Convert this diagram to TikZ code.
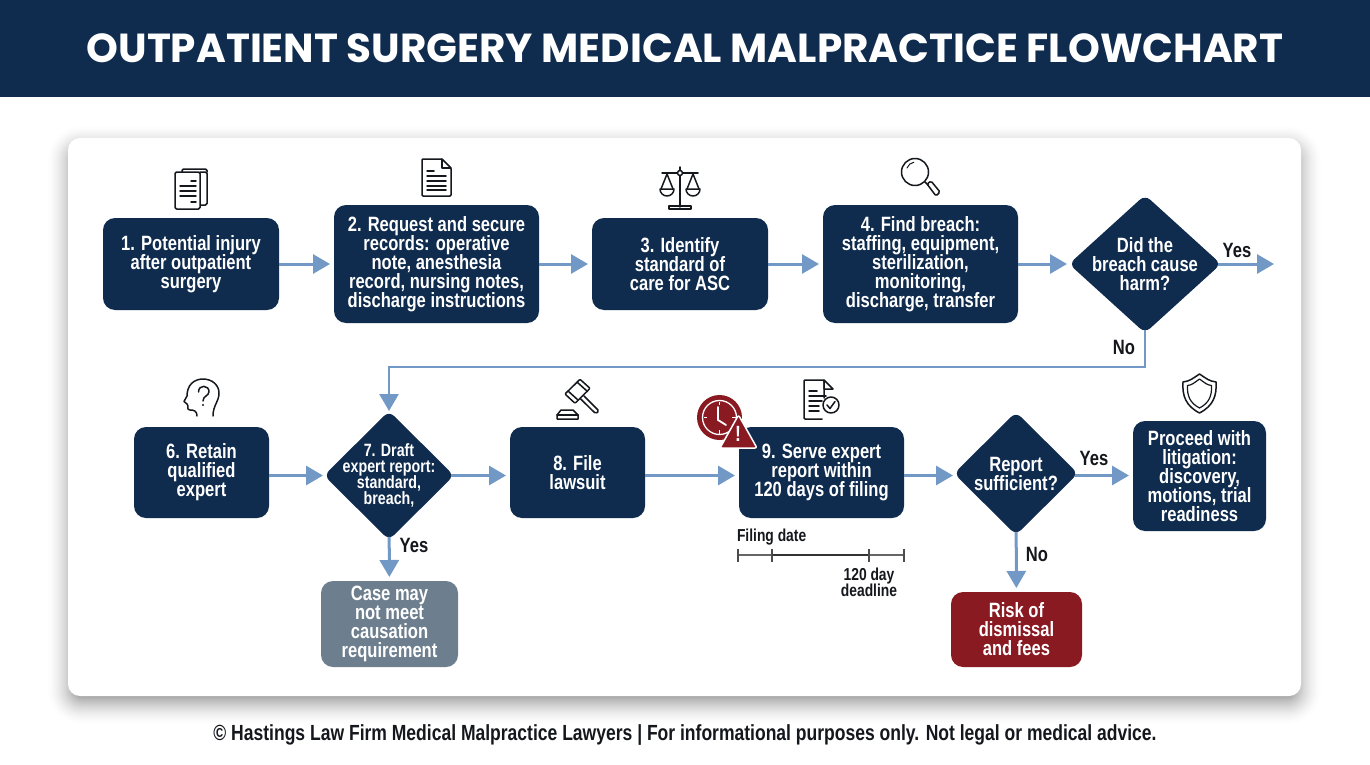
\documentclass[tikz,border=0pt]{standalone}
\usepackage{fontspec}
\setmainfont{Liberation Sans}[FakeStretch=0.8]
\newfontfamily\titlefont{Poppins}
\usetikzlibrary{shapes.geometric, arrows.meta, positioning, calc}
\definecolor{navy}{HTML}{0F2B4E}
\definecolor{flowblue}{HTML}{7299C6}
\definecolor{darkred}{HTML}{8A1A22}
\definecolor{slate}{HTML}{6D7F8F}
\definecolor{inkblack}{HTML}{14181D}
\newcommand{\boldtext}[2]{\fontsize{#1}{#2}\selectfont\bfseries\lineskiplimit=-50pt\relax}

\begin{document}
\begin{tikzpicture}[
        x=1pt, y=-1pt,
        every node/.style={outer sep=0pt},
        stepbox/.style={rectangle, fill=navy, rounded corners=12, text=white, align=center, inner sep=0pt, font=\boldtext{20.7}{19}},
        endbox/.style={stepbox, fill=#1},
        decision/.style={diamond, fill=navy, rounded corners=7, text=white, align=center, inner sep=-30pt, font=\boldtext{20.7}{19}},
        arrow/.style={-{Triangle[length=17pt, width=19pt]}, line width=3pt, draw=flowblue, shorten >=4pt},
        branch/.style={text=inkblack, font=\boldtext{20.7}{19}},
        small/.style={text=inkblack, align=center, inner sep=0pt, font=\boldtext{17.3}{16}},
        icon/.style={draw=inkblack, line width=1.5pt, line join=round, line cap=round}
    ]
    \useasboundingbox (0,0) rectangle (1370,765);
    \fill[white] (0,0) rectangle (1370,765);

    % Title bar
    \fill[navy] (0,0) rectangle (1370,97);
    \node[text=white, font=\titlefont\fontsize{40.5}{40}\selectfont\bfseries] (title) at (685,48) {OUTPATIENT SURGERY MEDICAL MALPRACTICE FLOWCHART};

    % Card with soft shadow
    \foreach \s in {-8,...,20} {
        \pgfmathsetmacro{\fade}{0.004+0.0006*(20-\s)}
        \fill[black, opacity=\fade, rounded corners=14+\s] (68-\s,138+8-\s) rectangle (1301+\s,696+8+\s);
    }
    \fill[white, rounded corners=12] (68,138) rectangle (1301,696);

    % Top row
    \node[stepbox, minimum width=176, minimum height=92] (step1) at (191,264) {1. Potential injury\\after outpatient\\surgery};
    \node[stepbox, minimum width=205, minimum height=118] (step2) at (436.5,264) {2. Request and secure\\records: operative\\note, anesthesia\\record, nursing notes,\\discharge instructions};
    \node[stepbox, minimum width=176, minimum height=92] (step3) at (680,264) {3. Identify\\standard of\\care for ASC};
    \node[stepbox, minimum width=195, minimum height=118] (step4) at (920.5,264) {4. Find breach:\\staffing, equipment,\\sterilization,\\monitoring,\\discharge, transfer};
    \node[decision, minimum width=152, minimum height=138] (harm) at (1145,264) {Did the\\breach cause\\harm?};
    \coordinate (yesend) at (1274,264);
    \coordinate (noturn) at (1145,367);

    % Bottom row
    \node[stepbox, minimum width=135, minimum height=91] (step6) at (201.5,472.5) {6. Retain\\qualified\\expert};
    \node[decision, minimum width=130, minimum height=129, font=\boldtext{17.8}{16}] (step7) at (389,475.5) {7. Draft\\expert report:\\standard,\\breach,};
    \node[stepbox, minimum width=135, minimum height=91] (step8) at (577.5,472.5) {8. File\\lawsuit};
    \node[stepbox, minimum width=165, minimum height=91] (step9) at (821.5,472.5) {9. Serve expert\\report within\\120 days of filing};
    \node[decision, minimum width=124, minimum height=123] (enough) at (1016,473.5) {Report\\sufficient?};
    \node[stepbox, minimum width=133, minimum height=110] (proceed) at (1199.5,476) {Proceed with\\litigation:\\discovery,\\motions, trial\\readiness};
    \node[endbox=slate, minimum width=137, minimum height=86] (causation) at (389.5,624) {Case may\\not meet\\causation\\requirement};
    \node[endbox=darkred, minimum width=131, minimum height=75] (dismissal) at (1016.5,629.5) {Risk of\\dismissal\\and fees};

    % Connectors
    \draw[arrow] (step1) -- (step2);
    \draw[arrow] (step2) -- (step3);
    \draw[arrow] (step3) -- (step4);
    \draw[arrow, shorten >=2pt] (step4) -- (harm);
    \draw[arrow, shorten >=0pt, shorten <=-3pt] (harm) -- (yesend);
    \draw[arrow, line width=2.5pt, shorten >=0pt, shorten <=-3pt] (harm.south) -- (noturn) -| (step7.north);
    \draw[arrow, shorten >=1pt] (step6.east |- step7) -- (step7);
    \draw[arrow, shorten <=-3pt] (step7) -- (step8.west |- step7);
    \draw[arrow] (step8.east |- step7) -- (step9.west |- step7);
    \draw[arrow, shorten >=1pt] (step9.east |- step7) -- (enough.west |- step7);
    \draw[arrow, shorten <=-3pt] (enough.east |- step7) -- (proceed.west |- step7);
    \draw[arrow, shorten <=-3pt] (step7) -- (causation);
    \draw[arrow, shorten <=-3pt] (enough) -- (dismissal);

    % Branch labels
    \node[branch] (yes1) at (1237,250) {Yes};
    \node[branch] (no1) at (1124,347) {No};
    \node[branch] (yes2) at (414,545) {Yes};
    \node[branch] (yes3) at (1094,458) {Yes};
    \node[branch] (no2) at (1037,554) {No};

    % Timeline under step 9
    \coordinate (tick1) at (738,555);
    \coordinate (tick2) at (772,555);
    \coordinate (tick3) at (869,555);
    \coordinate (tick4) at (904,555);
    \draw[draw=black!60, line width=1.2pt] (tick1) -- (tick2) (tick3) -- (tick4);
    \draw[draw=black!80, line width=1.6pt] (tick2) -- (tick3);
    \foreach \t/\w in {tick1/1.2, tick2/1.6, tick3/1.6, tick4/1.2} {
        \draw[draw=black!70, line width=\w pt] ($(\t)+(0,-6.5)$) -- ($(\t)+(0,6.5)$);
    }
    \node[small, anchor=west] (filing) at (737,537) {Filing date};
    \node[small] (deadline) at (869,582) {120 day\\deadline};

    % Footer
    \node[text=inkblack, font=\boldtext{21.9}{22}] (footer) at (685,735) {© Hastings Law Firm Medical Malpractice Lawyers | For informational purposes only. Not legal or medical advice.};

    % Icon: stacked pages
    \draw[icon, rounded corners=1.5] (200,172) -- (207,172) -- (207,205) -- (200,205);
    \draw[icon, rounded corners=1.5] (182,172) -- (182,169) -- (207,169) -- (207,172);
    \draw[icon, fill=white, rounded corners=1.5] (175,172) rectangle (200,209);
    \foreach \y/\a in {181/191, 186/180, 191/180, 196/180, 202/191} {
        \draw[icon] (\a,\y) -- (196,\y);
    }
    % Icon: document
    \draw[icon, rounded corners=1] (422,159) -- (442,159) -- (451,168) -- (451,196) -- (422,196) -- cycle;
    \draw[icon] (442,159) -- (442,168) -- (451,168);
    \draw[icon] (427,171) -- (434,171);
    \foreach \y in {176,181,186,190} {
        \draw[icon] (427,\y) -- (446,\y);
    }
    % Icon: scales
    \draw[icon] (680,167) -- (680,207) (662,173) -- (698,173);
    \draw[icon, fill=white] (680,173) circle (2.5);
    \draw[icon] (661,189) -- (667,174) -- (673,189) (687,189) -- (693,174) -- (699,189);
    \draw[icon] (660,189) -- (674,189) arc (0:180:7) (686,189) -- (700,189) arc (0:180:7);
    \draw[icon] (669,209) -- (691,209) -- (691,206) -- (669,206) -- cycle;
    % Icon: magnifier
    \draw[icon] (915,172) circle (13.5);
    \draw[icon] (925,182) -- (928,185);
    \draw[icon, rounded corners=1.5] (927,184) -- (931,181) -- (940,192) -- (936,196) -- cycle;
    \draw[icon, line width=1pt] (907,168) arc (200:260:9);
    % Icon: head with question mark
    \draw[icon] (197,416) .. controls (197,411) and (194,410) .. (190,410) .. controls (186,410) and (189,405) .. (187,404)
        -- (184,401.5) -- (187,396) .. controls (187,385) and (194,379) .. (203,379)
        .. controls (212,379) and (219,385) .. (219,393) .. controls (219,402) and (213,405) .. (213,416);
    \draw[icon] (198.5,392) .. controls (198.5,384) and (209.5,385) .. (209,392) .. controls (208.5,396) and (203,396) .. (203,401);
    \fill[inkblack] (203,405) circle (1.2);
    % Icon: gavel
    \draw[icon, rounded corners=1] (580,379.3) -- (590,388.3) -- (575,403.3) -- (565,394) -- cycle;
    \draw[icon] (577.5,382.5) -- (587.5,391.5) (568,391) -- (578,400);
    \draw[icon, rounded corners=1.5] (584,396) -- (599,411) -- (595.7,413.7) -- (580.7,399);
    \draw[icon] (557,419) -- (578,419) -- (578,415) -- (573,410) -- (561,410) -- (557,415) -- cycle;
    \draw[icon] (557,415) -- (578,415);
    % Icon: clock and warning
    \fill[darkred] (719.5,417.5) circle (22.5);
    \draw[white, line width=1.3pt] (719.5,417.5) circle (17);
    \foreach \a in {0,90,180,270} {
        \draw[white, line width=1.2pt] ($(719.5,417.5)+(\a:12.5)$) -- ($(719.5,417.5)+(\a:16)$);
    }
    \draw[white, line width=1.8pt, line cap=round] (718,407) -- (718,420) -- (726,425);
    \draw[white, line width=1.5pt, line join=round, fill=darkred, rounded corners=2] (738.5,415) -- (757,448) -- (720,448) -- cycle;
    \node[text=white, font=\fontsize{22}{22}\selectfont\bfseries] (warn) at (738,434) {!};
    % Icon: document with check
    \draw[icon, rounded corners=1] (824,398) -- (824,380) -- (804,380) -- (804,419) -- (822,419);
    \draw[icon, fill=white] (824,389) -- (824,380) -- (833,389) -- cycle;
    \foreach \y/\b in {391/817, 396/826, 401/822, 406/819, 411/819} {
        \draw[icon] (809,\y) -- (\b,\y);
    }
    \draw[icon, fill=white] (831,405) circle (8);
    \draw[icon] (827,405) -- (830,408.5) -- (835,401.5);
    % Icon: shield
    \draw[icon] (1199.5,374) .. controls (1192,379) and (1190,381) .. (1183,382)
        .. controls (1182,396) and (1186,406) .. (1199.5,413) .. controls (1213,406) and (1217,396) .. (1216,382)
        .. controls (1209,381) and (1207,379) .. (1199.5,374) -- cycle;
    \draw[icon, line width=1.2pt] (1199.5,379) .. controls (1194,383) and (1192,385) .. (1187.5,385.5)
        .. controls (1187,396) and (1190,403) .. (1199.5,408) .. controls (1209,403) and (1212,396) .. (1211.5,385.5)
        .. controls (1207,385) and (1205,383) .. (1199.5,379) -- cycle;

\end{tikzpicture}
\end{document}
